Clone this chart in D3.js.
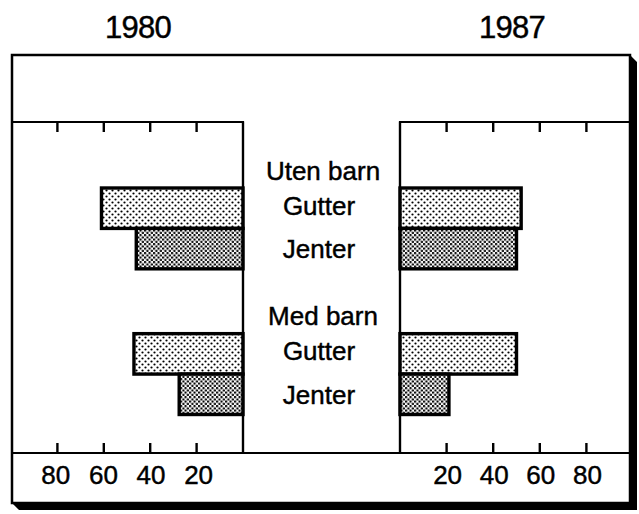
<!DOCTYPE html>
<html>
<head>
<meta charset="utf-8">
<script src="https://cdn.jsdelivr.net/npm/d3@7"></script>
<style>
  html, body { margin: 0; padding: 0; background: #fff; }
  svg { display: block; }
  text { font-family: "Liberation Sans", Arial, Helvetica, sans-serif; fill: #000; stroke: #000; stroke-width: 0.45px; }
</style>
</head>
<body>
<svg id="chart" width="639" height="514"></svg>
<script>
// ---- data ----
const years = ["1980", "1987"];
const groups = ["Uten barn", "Med barn"];
const sexes = ["Gutter", "Jenter"];
const values1980 = [61, 46, 47, 27.5];   // Uten Gutter, Uten Jenter, Med Gutter, Med Jenter
const values1987 = [52, 50, 50, 21];
const tickValues = [20, 40, 60, 80];

const svg = d3.select("#chart");

// patterns
const defs = svg.append("defs");
const pLight = defs.append("pattern").attr("id", "pGutter")
  .attr("patternUnits", "userSpaceOnUse").attr("width", 6).attr("height", 6);
pLight.append("rect").attr("width", 6).attr("height", 6).attr("fill", "#fff");
pLight.append("circle").attr("cx", 1.5).attr("cy", 1.5).attr("r", 1.1).attr("fill", "#000");
pLight.append("circle").attr("cx", 4.5).attr("cy", 4.5).attr("r", 1.1).attr("fill", "#000");

const pDark = defs.append("pattern").attr("id", "pJenter")
  .attr("patternUnits", "userSpaceOnUse").attr("width", 4.5).attr("height", 4.5);
pDark.append("rect").attr("width", 4.5).attr("height", 4.5).attr("fill", "#fff");
pDark.append("circle").attr("cx", 1.1).attr("cy", 1.1).attr("r", 1.2).attr("fill", "#000");
pDark.append("circle").attr("cx", 3.35).attr("cy", 3.35).attr("r", 1.2).attr("fill", "#000");

// frame geometry
const F = { x0: 12, y0: 55, x1: 630, y1: 503, d: 7 };
const panelTop = 122, panelBottom = 453;

// shadow
svg.append("polygon")
  .attr("points", [
    [F.x1, F.y0], [F.x1 + F.d, F.y0 + F.d], [F.x1 + F.d, F.y1 + F.d],
    [F.x0 + F.d, F.y1 + F.d], [F.x0, F.y1], [F.x1, F.y1]
  ].map(p => p.join(",")).join(" "))
  .attr("fill", "#000");
svg.append("rect")
  .attr("x", F.x0).attr("y", F.y0)
  .attr("width", F.x1 - F.x0).attr("height", F.y1 - F.y0)
  .attr("fill", "#fff").attr("stroke", "#000").attr("stroke-width", 2.5);

// scales
const xL = d3.scaleLinear().domain([0, 100]).range([243, 11]);
const xR = d3.scaleLinear().domain([0, 100]).range([400, 633]);
const yG = d3.scaleBand().domain(groups).range([188, 414.5]).paddingInner(0.445).paddingOuter(0);
const yS = d3.scaleBand().domain(sexes).range([0, yG.bandwidth()]).padding(0);

// panels
function panel(x, zeroX, labelShift) {
  const g = svg.append("g");
  const outer = x(100) < zeroX ? F.x0 : F.x1;
  g.append("path")
    .attr("d", `M${outer},${panelTop}H${zeroX}V${panelBottom}`)
    .attr("fill", "none").attr("stroke", "#000").attr("stroke-width", 2.2);
  g.selectAll("line.tt").data(tickValues).join("line")
    .attr("x1", d => x(d)).attr("x2", d => x(d))
    .attr("y1", panelTop).attr("y2", panelTop + 10)
    .attr("stroke", "#000").attr("stroke-width", 2.4);
  g.selectAll("line.bt").data(tickValues).join("line")
    .attr("x1", d => x(d)).attr("x2", d => x(d))
    .attr("y1", panelBottom - 10).attr("y2", panelBottom)
    .attr("stroke", "#000").attr("stroke-width", 2.4);
  g.selectAll("text.tl").data(tickValues).join("text")
    .attr("x", d => x(d) + labelShift(d)).attr("y", 484)
    .attr("text-anchor", "middle").attr("font-size", 26)
    .text(d => d);
}
panel(xL, 243, d => (d - 20) * -0.06 + 2);
panel(xR, 400, d => 1);

// full-width bottom line
svg.append("line")
  .attr("x1", F.x0).attr("x2", F.x1)
  .attr("y1", panelBottom).attr("y2", panelBottom)
  .attr("stroke", "#000").attr("stroke-width", 2.2);

// bars
const rows = [];
groups.forEach((gname, gi) => sexes.forEach((s, si) => {
  const i = gi * 2 + si;
  rows.push({ group: gname, sex: s, v80: values1980[i], v87: values1987[i] });
}));

svg.append("g").selectAll("rect").data(rows).join("rect")
  .attr("x", d => xL(d.v80)).attr("width", d => xL(0) - xL(d.v80))
  .attr("y", d => yG(d.group) + yS(d.sex)).attr("height", yS.bandwidth())
  .attr("fill", d => d.sex === "Gutter" ? "url(#pGutter)" : "url(#pJenter)")
  .attr("stroke", "#000").attr("stroke-width", 3.4);

svg.append("g").selectAll("rect").data(rows).join("rect")
  .attr("x", xR(0)).attr("width", d => xR(d.v87) - xR(0))
  .attr("y", d => yG(d.group) + yS(d.sex)).attr("height", yS.bandwidth())
  .attr("fill", d => d.sex === "Gutter" ? "url(#pGutter)" : "url(#pJenter)")
  .attr("stroke", "#000").attr("stroke-width", 3.4);

// redraw zero lines on top of bars
[243, 400].forEach(x0 => svg.append("line")
  .attr("x1", x0).attr("x2", x0).attr("y1", panelTop).attr("y2", panelBottom)
  .attr("stroke", "#000").attr("stroke-width", 2.2));

// center labels
const cx = 321;
groups.forEach(gname => {
  svg.append("text").attr("x", cx + 2).attr("y", yG(gname) - 8.5)
    .attr("text-anchor", "middle").attr("font-size", 26).text(gname);
});
rows.forEach(d => {
  const c = yG(d.group) + yS(d.sex) + yS.bandwidth() / 2;
  svg.append("text").attr("x", cx - 2)
    .attr("y", c + (d.sex === "Gutter" ? 6.5 : 9.5))
    .attr("text-anchor", "middle").attr("font-size", 26).text(d.sex);
});

// titles
svg.append("text").attr("x", 138).attr("y", 38).attr("text-anchor", "middle")
  .attr("font-size", 31).attr("letter-spacing", -0.8).text(years[0]);
svg.append("text").attr("x", 512).attr("y", 38).attr("text-anchor", "middle")
  .attr("font-size", 31).attr("letter-spacing", -0.8).text(years[1]);
</script>
</body>
</html>
